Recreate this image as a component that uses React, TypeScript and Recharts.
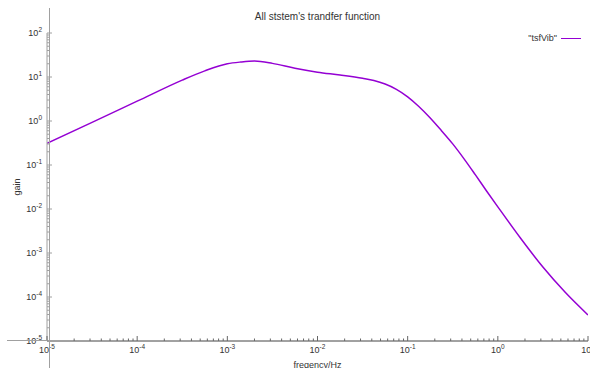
import React from 'react';
import { LineChart, Line, XAxis, YAxis, Legend } from 'recharts';

// values (log-log)
const frequency = [
  1e-5, 3.16e-5, 1e-4, 3.16e-4, 5.62e-4, 1e-3, 1.41e-3, 2e-3, 3.16e-3, 5.62e-3, 1e-2, 1.78e-2,
  3.16e-2, 4.22e-2, 5.62e-2, 7.5e-2, 0.1, 0.133, 0.178, 0.237, 0.316, 0.422, 0.562, 0.75, 1,
  1.78, 3.16, 5.62, 10,
];
const gain = [
  0.311, 0.933, 2.82, 8.5, 13.8, 20.0, 21.9, 23.0, 20.4, 15.8, 12.9, 11.1,
  9.33, 8.32, 6.92, 5.25, 3.55, 2.14, 1.17, 0.603, 0.302, 0.138, 0.0603, 0.0257, 0.0112,
  0.00219, 0.000479, 0.000126, 0.000039,
];

const xDecades = [1e-5, 1e-4, 1e-3, 1e-2, 1e-1, 1, 10];
const yDecades = [1e-5, 1e-4, 1e-3, 1e-2, 1e-1, 1, 10, 100];

const withMinors = (decades: number[]) => {
  const out: number[] = [];
  decades.forEach((d, i) => {
    out.push(d);
    if (i < decades.length - 1) {
      for (let m = 2; m <= 9; m++) out.push(m * d);
    }
  });
  return out;
};

const xTicks = withMinors(xDecades);
const yTicks = withMinors(yDecades);

const data = frequency.map((f, i) => ({ f, g: gain[i] }));

const FONT = '"Liberation Sans", Arial, sans-serif';
const TEXT = '#333';
const BORDER = '#a0a0a0';

const isMajor = (v: number) => Math.abs(Math.log10(v) - Math.round(Math.log10(v))) < 1e-6;

const Pow = ({ v }: { v: number }) => (
  <>
    10<tspan dy={-4} fontSize={6.5}>{String(Math.round(Math.log10(v)))}</tspan>
  </>
);

const BottomTick = ({ x, y, payload }: any) => {
  const major = isMajor(payload.value);
  return (
    <g>
      <line x1={x} x2={x} y1={y} y2={y - (major ? 5 : 2.5)} stroke="#666" />
      {major && (
        <text x={x} y={y + 12} textAnchor="middle" fontSize={9} fill={TEXT} fontFamily={FONT}>
          <Pow v={payload.value} />
        </text>
      )}
    </g>
  );
};

const TopTick = ({ x, y, payload }: any) => {
  const major = isMajor(payload.value);
  return <line x1={x} x2={x} y1={y} y2={y + (major ? 5 : 2.5)} stroke={BORDER} />;
};

const LeftTick = ({ x, y, payload }: any) => {
  const major = isMajor(payload.value);
  return (
    <g>
      <line x1={x} x2={x + (major ? 5 : 2.5)} y1={y} y2={y} stroke={BORDER} />
      {major && (
        <text x={x - 5} y={y + 3} textAnchor="end" fontSize={9} fill={TEXT} fontFamily={FONT}>
          <Pow v={payload.value} />
        </text>
      )}
    </g>
  );
};

const RightTick = ({ x, y, payload }: any) => {
  const major = isMajor(payload.value);
  return <line x1={x} x2={x - (major ? 5 : 2.5)} y1={y} y2={y} stroke={BORDER} />;
};

const LegendBox = () => (
  <div style={{ display: 'flex', alignItems: 'center', fontFamily: FONT, fontSize: 9, color: TEXT }}>
    <span>"tsfVib"</span>
    <span style={{ display: 'inline-block', width: 20, height: 0, borderTop: '1.5px solid #9400d3', marginLeft: 4 }} />
  </div>
);

export default function App() {
  return (
    <div style={{ position: 'absolute', left: 0, top: 0, width: 590, height: 368, background: '#fff', overflow: 'hidden' }}>
      <div
        style={{
          position: 'absolute', left: 47, top: 11, width: 541, textAlign: 'center',
          fontFamily: FONT, fontSize: 10, lineHeight: '12px', color: TEXT,
        }}
      >
        All ststem's trandfer function
      </div>
      <LineChart width={590} height={368} data={data} margin={{ top: 33, right: 2, bottom: 0, left: 0 }}>
        <XAxis
          dataKey="f"
          type="number"
          scale="log"
          domain={[1e-5, 10]}
          allowDataOverflow
          ticks={xTicks}
          interval={0}
          tickSize={0}
          tickMargin={0}
          tickLine={false}
          tick={<BottomTick />}
          height={27}
          axisLine={{ stroke: '#444' }}
          label={{ value: 'freqency/Hz', position: 'insideBottom', offset: 0, fontSize: 9, fill: TEXT, fontFamily: FONT }}
        />
        <XAxis
          xAxisId="top"
          orientation="top"
          dataKey="f"
          type="number"
          scale="log"
          domain={[1e-5, 10]}
          allowDataOverflow
          ticks={xTicks}
          interval={0}
          tickSize={0}
          tickMargin={0}
          tickLine={false}
          tick={<TopTick />}
          height={0}
          axisLine={{ stroke: BORDER }}
        />
        <YAxis
          type="number"
          scale="log"
          domain={[1e-5, 100]}
          allowDataOverflow
          ticks={yTicks}
          interval={0}
          tickSize={0}
          tickMargin={0}
          tickLine={false}
          tick={<LeftTick />}
          width={47}
          axisLine={{ stroke: BORDER }}
          label={{
            value: 'gain', angle: -90, position: 'insideLeft', offset: 17,
            fontSize: 9, fill: TEXT, fontFamily: FONT, style: { textAnchor: 'middle' },
          }}
        />
        <YAxis
          yAxisId="right"
          orientation="right"
          type="number"
          scale="log"
          domain={[1e-5, 100]}
          allowDataOverflow
          ticks={yTicks}
          interval={0}
          tickSize={0}
          tickMargin={0}
          tickLine={false}
          tick={<RightTick />}
          width={0}
          axisLine={{ stroke: BORDER }}
        />
        <Legend
          layout="horizontal"
          verticalAlign="middle"
          align="center"
          content={<LegendBox />}
          wrapperStyle={{ top: 33, right: 9, left: 'auto', width: 'auto' }}
        />
        <Line
          type="monotone"
          dataKey="g"
          stroke="#9400d3"
          strokeWidth={1.5}
          dot={false}
          activeDot={false}
          isAnimationActive={false}
        />
      </LineChart>
      <div style={{ position: 'absolute', left: 49, top: 8, width: 1, height: 360, background: BORDER }} />
      <div style={{ position: 'absolute', left: 7, top: 340, width: 40, height: 1, background: BORDER }} />
    </div>
  );
}
